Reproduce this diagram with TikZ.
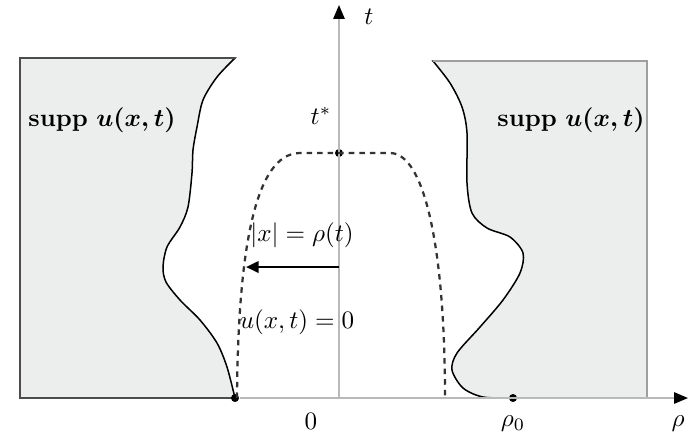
\documentclass[tikz,border=0pt]{standalone}
\usepackage{amsmath,amssymb}
\usepackage{xcolor}
\usetikzlibrary{arrows.meta,positioning}

\definecolor{suppgray}{RGB}{236,238,238}

\begin{document}
\begin{tikzpicture}[
    x=0.014cm, y=-0.014cm,
    >={Triangle[length=5pt,width=4.5pt]},
    axis/.style={draw=gray!55, line width=0.6pt, -{Triangle[length=5.5pt,width=4.5pt,color=black]}},
    boxedge/.style={draw=black!70, line width=1.1pt},
    bound/.style={draw=black, line width=0.6pt},
    front/.style={draw=black!80, dash pattern=on 2.2pt off 2pt, line width=0.9pt},
    dot/.style={circle, fill=black, inner sep=0pt, minimum size=3.2pt}
]
    \useasboundingbox (0,0) rectangle (689,443);

    % supports
    \filldraw[fill=suppgray, bound] (20,398) -- (20,58) -- plot[smooth] coordinates {
        (235,58) (217,77) (203,100) (197,127) (193,150) (192,173) (188,207)
        (180,227) (167,247) (163,267) (166,282) (180,300) (200,320)
        (217,343) (227,367) (235,398)} -- cycle;
    \filldraw[fill=suppgray, bound] (647,398) -- (647,61) -- plot[smooth] coordinates {
        (433,61) (450,83) (462,107) (467,133) (467,183) (472,213) (487,228)
        (510,237) (523,253) (520,273) (503,300) (480,327) (457,353)
        (452,370) (463,388) (483,397) (513,398)} -- cycle;
    \draw[boxedge] (235,58) -- (20,58) -- (20,398) -- (235,398);
    \draw[boxedge, draw=gray!75] (433,61) -- (647,61) -- (647,398);
    \draw[boxedge] (513,398) -- (647,398);

    % axes
    \coordinate (origin) at (339,398);
    \coordinate (ttop)   at (339,5);
    \coordinate (rhoend) at (688,398);
    \node[dot] (lfoot) at (235,398) {};
    \node[dot] (rho0)  at (513,398) {};
    \node[dot] (tstar) at (339,153) {};
    \draw[axis] (origin) -- (ttop);
    \draw[axis] (lfoot) -- (rhoend);

    % free boundary
    \draw[front] (237,398) .. controls (238,250) and (255,153) .. (300,153)
        -- (390,153) .. controls (425,153) and (445,250) .. (445,398);

    \coordinate (axpt)  at (339,267);
    \coordinate (hitpt) at (246,267);
    \draw[->, line width=1pt] (axpt) -- (hitpt);

    % labels
    \node (tlbl)    at (369,17)  {$t$};
    \node (tstarlbl) at (321,116) {$t^*$};
    \node (zerolbl) at (311,421) {$0$};
    \node (rho0lbl) at (513,424) {$\rho_0$};
    \node (rholbl)  at (678,424) {$\rho$};
    \node (rholbl2) at (302,235) {$|x|=\rho(t)$};
    \node (zerou)   at (297,322) {$u(x,t)=0$};
    \node (suppl)   at (102,120) {\textbf{supp} $\boldsymbol{u(x,t)}$};
    \node (suppr)   at (571,120) {\textbf{supp} $\boldsymbol{u(x,t)}$};
\end{tikzpicture}
\end{document}
